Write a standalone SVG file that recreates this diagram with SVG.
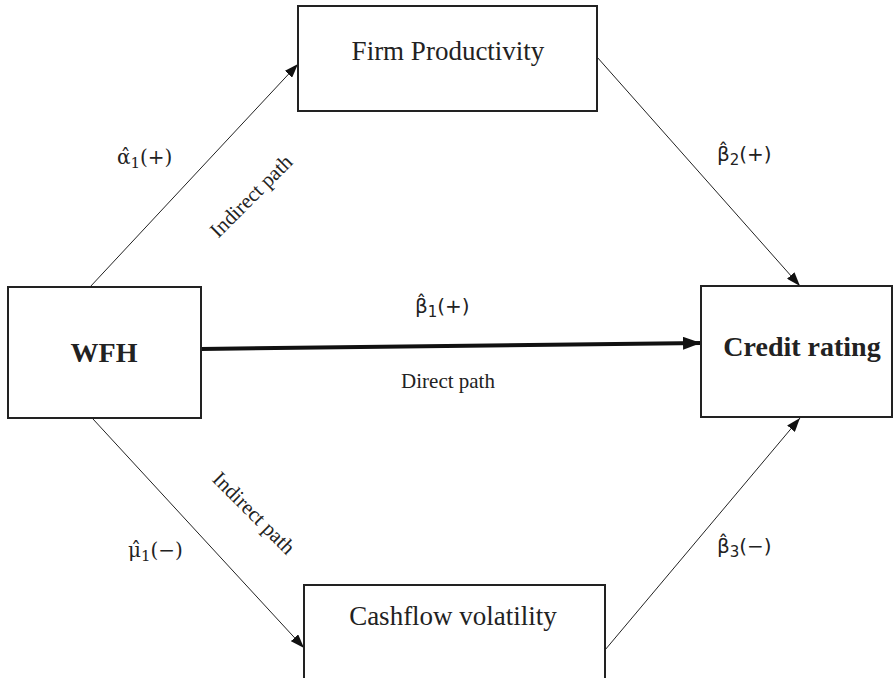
<svg xmlns="http://www.w3.org/2000/svg" width="894" height="678" viewBox="0 0 894 678">
<style>
.box{fill:#fff;stroke:#222;stroke-width:2}
.lbl{font-family:"Liberation Serif","Times New Roman",serif;fill:#222}
.node{font-size:27px;text-anchor:middle}
.bold{font-size:28px;font-weight:bold;text-anchor:middle}
.path{font-size:21px;text-anchor:middle}
.coef{font-family:"DejaVu Serif","Liberation Serif",serif;font-size:20px;fill:#222}
.coefs{font-family:"DejaVu Sans","Liberation Sans",sans-serif;font-size:20px;fill:#222}
.sub{font-size:15px}
.thin{stroke:#222;stroke-width:1;fill:none}
.thick{stroke:#111;stroke-width:4;fill:none}
</style>
<defs>
<marker id="ah" viewBox="0 0 14 10" refX="14" refY="5" markerWidth="14" markerHeight="10" markerUnits="userSpaceOnUse" orient="auto">
<path d="M0,0 L14,5 L0,10 z" fill="#111"/>
</marker>
<marker id="ahb" viewBox="0 0 14 10" refX="14" refY="5" markerWidth="18" markerHeight="13" markerUnits="userSpaceOnUse" orient="auto">
<path d="M0,0 L14,5 L0,10 z" fill="#111"/>
</marker>
</defs>
<rect width="894" height="678" fill="#fff"/>
<g id="connectors">
<line class="thin" x1="90" y1="287" x2="298" y2="64" marker-end="url(#ah)"/>
<line class="thin" x1="597" y1="57" x2="800" y2="286" marker-end="url(#ah)"/>
<line class="thick" x1="201" y1="349" x2="701" y2="343" marker-end="url(#ahb)"/>
<line class="thin" x1="93" y1="419" x2="304" y2="648" marker-end="url(#ah)"/>
<line class="thin" x1="605" y1="650" x2="800" y2="418" marker-end="url(#ah)"/>
</g>
<g id="firm">
<rect class="box" x="298" y="6" width="299" height="105"/>
<text class="lbl node" x="448" y="60">Firm Productivity</text>
</g>
<g id="wfh">
<rect class="box" x="8" y="287" width="193" height="131"/>
<text class="lbl bold" x="104" y="362">WFH</text>
</g>
<g id="credit">
<rect class="box" x="701" y="286" width="191" height="131"/>
<text class="lbl bold" x="802" y="356">Credit rating</text>
</g>
<g id="cashflow">
<rect class="box" x="304" y="585" width="301" height="100"/>
<text class="lbl node" x="453" y="625">Cashflow volatility</text>
</g>
<g id="labels">
<text class="coef" x="117" y="164">α̂<tspan class="sub" dy="4">1</tspan><tspan dy="-4">(+)</tspan></text>
<text class="coefs" x="717" y="161">β̂<tspan class="sub" dy="4">2</tspan><tspan dy="-4">(+)</tspan></text>
<text class="coefs" x="415" y="313">β̂<tspan class="sub" dy="4">1</tspan><tspan dy="-4">(+)</tspan></text>
<text class="coef" x="128" y="557">μ̂<tspan class="sub" dy="4">1</tspan><tspan dy="-4">(−)</tspan></text>
<text class="coefs" x="717" y="553">β̂<tspan class="sub" dy="4">3</tspan><tspan dy="-4">(−)</tspan></text>
<text class="lbl path" x="448" y="388">Direct path</text>
<text class="lbl path" transform="translate(256,201) rotate(-45)">Indirect path</text>
<text class="lbl path" transform="translate(249,518) rotate(45)">Indirect path</text>
</g>
</svg>
